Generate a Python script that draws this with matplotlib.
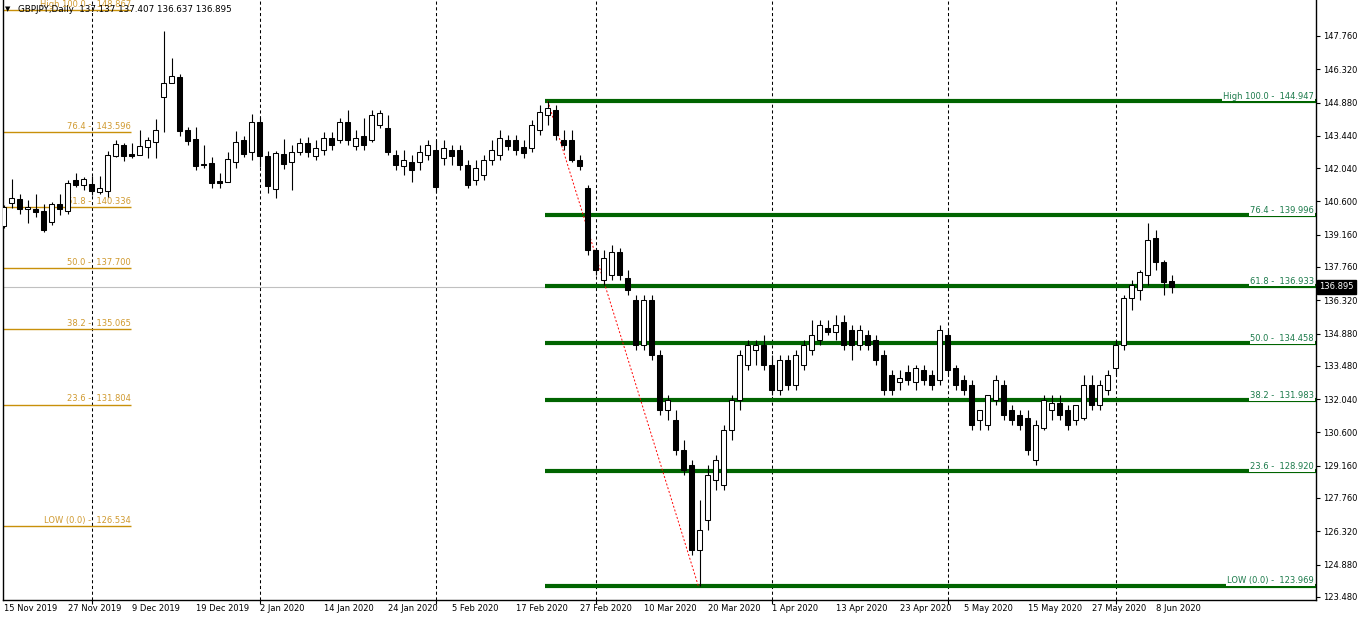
import matplotlib
matplotlib.use("Agg")
import matplotlib.pyplot as plt
import matplotlib.transforms as mtransforms
from matplotlib.patches import Rectangle
import numpy as np
import pandas as pd

title = "GBPJPY,Daily  137.137 137.407 136.637 136.895"
dates = pd.bdate_range("2019-11-15", "2020-06-10")
dates = dates[~dates.isin(pd.to_datetime(["2019-12-25", "2020-01-01"]))]

opens = [139.53, 140.53, 140.70, 140.27, 140.27, 140.18, 139.71, 140.49, 140.18, 141.53,
         141.31, 141.35, 141.01, 141.05, 142.57, 143.04, 142.65, 142.61, 142.95, 143.17,
         145.12, 145.73, 145.98, 143.69, 143.30, 142.22, 142.26, 141.48, 141.44, 142.31,
         143.26, 142.74, 144.04, 142.57, 141.14, 142.65, 142.30, 142.74, 143.13, 142.57,
         142.83, 143.34, 143.26, 144.04, 142.99, 143.43, 143.26, 143.91, 143.78, 142.61,
         142.13, 142.30, 142.30, 142.61, 142.83, 142.48, 142.83, 142.83, 142.18, 141.53,
         141.74, 142.39, 142.61, 143.26, 143.26, 142.95, 142.91, 143.69, 144.34, 144.56,
         143.26, 143.26, 142.39, 141.18, 138.50, 137.20, 137.42, 138.40, 137.29, 136.33,
         134.38, 136.33, 133.95, 131.57, 131.14, 129.84, 129.19, 125.51, 126.81, 128.54,
         128.32, 130.71, 132.00, 133.52, 134.17, 134.38, 133.52, 132.44, 133.74, 132.65,
         133.52, 134.17, 134.60, 135.12, 134.95, 135.38, 135.03, 134.38, 134.82, 134.60,
         133.95, 133.09, 132.78, 133.22, 132.78, 133.30, 133.09, 132.87, 134.82, 133.39,
         132.87, 132.65, 131.14, 130.92, 132.00, 132.65, 131.57, 131.35, 131.22, 129.41,
         130.79, 131.57, 131.87, 131.57, 131.14, 131.22, 132.65, 131.79, 132.44, 133.39,
         134.38, 136.42, 136.77, 137.42, 139.00, 137.98, 137.137]
highs = [140.44, 141.57, 140.92, 140.66, 140.92, 140.49, 140.57, 140.92, 141.53, 141.83,
         141.66, 141.70, 141.70, 142.78, 143.26, 143.13, 143.13, 143.69, 143.39, 144.17,
         147.98, 146.81, 146.11, 143.82, 143.82, 143.04, 142.52, 141.83, 142.74, 143.65,
         143.43, 144.38, 144.25, 142.78, 142.78, 143.30, 143.04, 143.34, 143.39, 143.26,
         143.61, 143.61, 144.21, 144.56, 143.69, 144.21, 144.56, 144.56, 144.34, 142.83,
         142.83, 142.61, 143.04, 143.26, 143.26, 143.26, 143.04, 143.04, 142.39, 142.39,
         142.61, 143.26, 143.69, 143.47, 143.47, 143.26, 144.12, 144.77, 144.947, 144.77,
         143.69, 143.69, 142.61, 141.31, 138.60, 138.50, 138.70, 138.60, 137.63, 136.55,
         136.55, 136.55, 134.17, 132.22, 131.57, 130.27, 129.41, 127.67, 129.19, 129.62,
         130.92, 132.22, 134.17, 134.60, 134.60, 134.82, 133.95, 133.95, 133.95, 134.17,
         134.60, 135.47, 135.47, 135.47, 135.68, 135.68, 135.25, 135.25, 135.03, 134.82,
         134.17, 133.30, 133.30, 133.52, 133.52, 133.52, 133.30, 135.25, 135.03, 133.52,
         133.09, 132.87, 131.57, 132.22, 133.09, 132.87, 131.79, 131.57, 131.57, 131.14,
         132.22, 132.22, 132.22, 131.79, 131.79, 133.09, 133.09, 132.87, 133.30, 134.60,
         136.55, 137.20, 137.63, 139.66, 139.36, 138.06, 137.407]
lows = [139.45, 140.31, 140.05, 139.66, 139.92, 139.27, 139.58, 140.01, 140.05, 141.22,
        141.09, 140.88, 140.92, 140.79, 142.52, 142.35, 142.48, 142.61, 142.48, 142.48,
        143.61, 145.73, 143.43, 143.04, 141.96, 142.05, 141.18, 141.18, 141.44, 142.05,
        142.52, 142.39, 142.09, 140.96, 140.75, 142.00, 141.09, 142.61, 142.52, 142.39,
        142.61, 142.83, 143.13, 143.04, 142.83, 142.83, 143.17, 143.78, 142.61, 141.96,
        141.74, 141.44, 141.96, 142.39, 141.01, 142.18, 142.18, 141.96, 141.18, 141.31,
        141.53, 142.18, 142.39, 142.83, 142.61, 142.48, 142.74, 143.47, 143.91, 143.26,
        142.83, 142.30, 141.96, 138.28, 137.40, 136.98, 137.20, 137.20, 136.55, 134.17,
        134.17, 133.74, 131.35, 131.14, 129.62, 128.76, 125.30, 123.969, 126.38, 128.11,
        128.11, 130.27, 131.57, 133.30, 133.52, 133.30, 132.22, 132.22, 132.44, 132.44,
        133.30, 133.95, 134.38, 134.82, 134.60, 134.17, 133.74, 134.17, 134.17, 133.52,
        132.22, 132.22, 132.44, 132.65, 132.44, 132.65, 132.44, 132.65, 133.09, 132.44,
        132.22, 130.71, 130.71, 130.71, 131.79, 131.14, 130.92, 130.71, 129.62, 129.19,
        130.71, 131.14, 131.14, 130.71, 130.92, 131.14, 131.57, 131.57, 132.22, 133.09,
        134.17, 135.90, 136.33, 136.98, 137.63, 136.55, 136.637]
closes = [140.36, 140.75, 140.27, 140.36, 140.14, 139.36, 140.49, 140.27, 141.40, 141.31,
          141.57, 141.05, 141.18, 142.61, 143.09, 142.57, 142.57, 143.00, 143.26, 143.69,
          145.73, 146.03, 143.65, 143.21, 142.13, 142.18, 141.40, 141.40, 142.43, 143.17,
          142.65, 144.04, 142.57, 141.27, 142.70, 142.22, 142.74, 143.13, 142.74, 142.91,
          143.34, 143.04, 144.04, 143.26, 143.34, 143.04, 144.34, 144.43, 142.74, 142.18,
          142.39, 141.96, 142.74, 143.04, 141.22, 142.91, 142.57, 142.18, 141.31, 142.05,
          142.39, 142.83, 143.34, 143.00, 142.83, 142.69, 143.91, 144.47, 144.65, 143.47,
          143.04, 142.39, 142.13, 138.50, 137.63, 138.15, 138.40, 137.42, 136.77, 134.38,
          136.33, 133.95, 131.57, 132.00, 129.84, 128.97, 125.51, 126.38, 128.76, 129.41,
          130.71, 132.00, 133.95, 134.38, 134.38, 133.52, 132.44, 133.74, 132.65, 133.95,
          134.38, 134.82, 135.25, 134.95, 135.25, 134.38, 134.38, 135.03, 134.38, 133.74,
          132.44, 132.44, 132.96, 132.87, 133.39, 132.87, 132.65, 135.03, 133.30, 132.65,
          132.44, 130.92, 131.57, 132.22, 132.87, 131.35, 131.14, 130.92, 129.84, 130.92,
          132.00, 131.87, 131.35, 130.92, 131.79, 132.65, 131.79, 132.65, 133.09, 134.38,
          136.42, 137.00, 137.55, 138.93, 137.98, 137.11, 136.895]

fib_names = ["High 100.0", "76.4", "61.8", "50.0", "38.2", "23.6", "LOW (0.0)"]
fib_green = [144.947, 139.996, 136.933, 134.458, 131.983, 128.920, 123.969]
fib_gold = [148.867, 143.596, 140.336, 137.700, 135.065, 131.804, 126.534]
yticks = [147.760, 146.320, 144.880, 143.440, 142.040, 140.600, 139.160, 137.760,
          136.320, 134.880, 133.480, 132.040, 130.600, 129.160, 127.760, 126.320,
          124.880, 123.480]
last_price = 136.895

W, H = 1362, 621
fig = plt.figure(figsize=(W / 100, H / 100), dpi=100)
L, R, T, B = 3, 1316, 0, 600
ax = fig.add_axes([L / W, 1 - B / H, (R - L) / W, (B - T) / H])
px = 8.0
xmin = -0.1
ax.set_xlim(xmin, xmin + (R - L) / px)
ax.set_ylim(123.344, 149.318)
FS = 6.0
FONT = "DejaVu Sans"

n = len(opens)
# month separators
month_starts = [i for i in range(1, n) if dates[i].month != dates[i - 1].month]
for i in month_starts:
    ax.axvline(i, color="black", lw=0.75, ls=(0, (3, 2.5)), zorder=1)

# current price line
ax.axhline(last_price, color="#c0c0c0", lw=0.8, zorder=1)

# gold fib (left)
gold_end = 15.9
for name, lv in zip(fib_names, fib_gold):
    ax.plot([xmin, gold_end], [lv, lv], color="#c8900a", lw=1.0, zorder=2, solid_capstyle="butt")
    ax.text(gold_end, lv + 0.06, f"{name} -  {lv:.3f}", color="#d09a30", fontsize=FS,
            family=FONT, ha="right", va="bottom", zorder=3)

# green fib
hi_i, lo_i = 68, 87
g_start = 67.7
g_end = xmin + (R - L) / px
for name, lv in zip(fib_names, fib_green):
    ax.plot([g_start, g_end], [lv, lv], color="#006400", lw=3.0, zorder=2, solid_capstyle="butt")
    ax.text(g_end - 0.25, lv + 0.02, f"{name} -  {lv:.3f}", color="#1b7a4a", fontsize=FS,
            family=FONT, ha="right", va="bottom", zorder=4,
            bbox=dict(facecolor="white", edgecolor="none", pad=0.6))
ax.plot([hi_i, lo_i - 0.2], [fib_green[0], fib_green[-1]], color="red", lw=0.7,
        ls=(0, (2, 2)), zorder=3)

# candles
bw = 0.6
for i in range(n):
    o, h, l, c = opens[i], highs[i], lows[i], closes[i]
    ax.plot([i, i], [l, h], color="black", lw=0.8, zorder=5, solid_capstyle="butt")
    lo_b, hi_b = min(o, c), max(o, c)
    if hi_b - lo_b < 0.03:
        ax.plot([i - bw / 2, i + bw / 2], [o, o], color="black", lw=0.9, zorder=6)
        continue
    fc = "white" if c > o else "black"
    ax.add_patch(Rectangle((i - bw / 2, lo_b), bw, hi_b - lo_b, facecolor=fc,
                           edgecolor="black", lw=0.75, zorder=6))

# axes styling
ax.spines["top"].set_visible(False)
for s in ["left", "right", "bottom"]:
    ax.spines[s].set_linewidth(1.0)
    ax.spines[s].set_color("black")
ax.yaxis.tick_right()
ax.set_yticks(yticks)
ax.set_yticklabels([f"{v:.3f}" for v in yticks], fontsize=FS, family=FONT)
ax.tick_params(axis="y", direction="out", length=3, width=0.8, pad=2)
ax.set_xticks(month_starts)
ax.set_xticklabels([])
ax.tick_params(axis="x", direction="out", length=3, width=0.8)

# date labels every 8 bars
trans = mtransforms.blended_transform_factory(ax.transData, ax.transAxes)
for i in range(0, n, 8):
    d = dates[i]
    ax.text(i + 0.05, -0.0135, f"{d.day} {d.strftime('%b %Y')}", transform=trans,
            fontsize=FS, family=FONT, ha="left", va="center", clip_on=False)

# last price box
ax.text(1.0 + 3 / (R - L), last_price, f"{last_price:.3f}",
        transform=mtransforms.blended_transform_factory(ax.transAxes, ax.transData),
        color="white", fontsize=FS, family=FONT, ha="left", va="center", zorder=10,
        bbox=dict(facecolor="black", edgecolor="black", pad=1.5), clip_on=False)

# title
fig.text(5 / W, 1 - 9 / H, "\u25BC", fontsize=5, family=FONT, ha="left", va="center")
fig.text(18 / W, 1 - 9 / H, title, fontsize=FS + 0.3, family=FONT, ha="left", va="center")

fig.savefig("out.png", dpi=100)
